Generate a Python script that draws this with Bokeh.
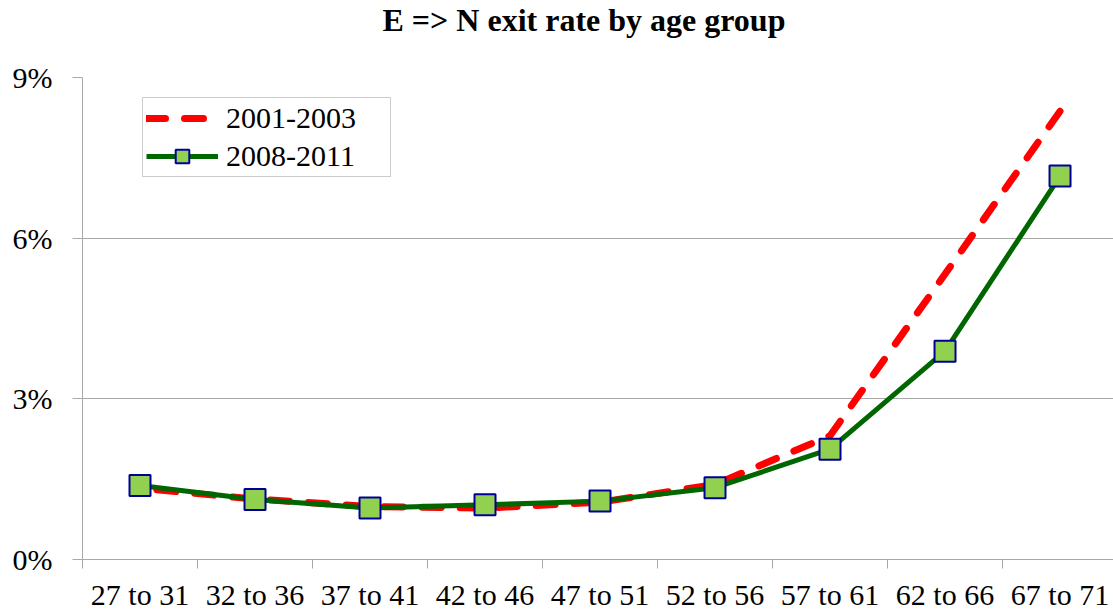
from bokeh.plotting import figure
from bokeh.models import FixedTicker, Range1d, Legend, LegendItem, PrintfTickFormatter, Title
from bokeh.embed import file_html
from bokeh.resources import INLINE

title_text = "E => N exit rate by age group"
age_groups = ["27 to 31", "32 to 36", "37 to 41", "42 to 46", "47 to 51",
              "52 to 56", "57 to 61", "62 to 66", "67 to 71"]
rate_2001_2003 = [1.33, 1.13, 0.99, 0.96, 1.07, 1.40, 2.31, 5.33, 8.37]
rate_2008_2011 = [1.38, 1.12, 0.96, 1.02, 1.09, 1.34, 2.06, 3.89, 7.16]
y_ticks = [0, 3, 6, 9]

FONT = "Liberation Serif"
GRAY = "#a8a8a8"

xs = [i + 0.5 for i in range(len(age_groups))]
boundaries = list(range(len(age_groups) + 1))

p = figure(width=1113, height=614, output_backend="svg", toolbar_location=None,
           x_range=Range1d(0, 8.965), y_range=Range1d(0, 9),
           min_border_left=82, min_border_right=0, min_border_top=77,
           min_border_bottom=55)
p.outline_line_color = None
p.background_fill_color = "white"

# spacer next to the frame, then the real title above it
p.add_layout(Title(text=" ", text_font_size="1px", standoff=35), "above")
p.add_layout(Title(text=title_text, text_font=FONT, text_font_size="32px",
                   text_font_style="bold", text_color="black", align="left",
                   offset=300, vertical_align="top", standoff=0), "above")

# dashed series drawn from its last point so the dash pattern ends on the top point
r1 = p.line(xs[::-1], rate_2001_2003[::-1], line_color="#ff0000", line_width=7,
            line_dash="19 19", line_cap="round")
r2 = p.line(xs, rate_2008_2011, line_color="#006600", line_width=5)
r3 = p.scatter(xs, rate_2008_2011, marker="square", size=21,
               fill_color="#92d050", line_color="#000099", line_width=2)

# x axis
p.xaxis.ticker = FixedTicker(ticks=xs, minor_ticks=boundaries)
p.xaxis.major_label_overrides = {x: lab for x, lab in zip(xs, age_groups)}
p.xaxis.major_tick_line_color = None
p.xaxis.major_tick_out = 0
p.xaxis.major_tick_in = 0
p.xaxis.minor_tick_line_color = GRAY
p.xaxis.minor_tick_out = 9
p.xaxis.minor_tick_in = 0
p.xaxis.axis_line_color = GRAY
p.xaxis.major_label_text_font = FONT
p.xaxis.major_label_text_font_size = "30px"
p.xaxis.major_label_text_color = "black"
p.xaxis.major_label_standoff = 9
p.xgrid.grid_line_color = None

# y axis
p.yaxis.ticker = FixedTicker(ticks=y_ticks)
p.yaxis.formatter = PrintfTickFormatter(format="%d%%")
p.yaxis.axis_line_color = GRAY
p.yaxis.major_tick_line_color = GRAY
p.yaxis.major_tick_out = 10
p.yaxis.major_tick_in = 0
p.yaxis.minor_tick_line_color = None
p.yaxis.major_label_text_font = FONT
p.yaxis.major_label_text_font_size = "30px"
p.yaxis.major_label_text_color = "black"
p.yaxis.major_label_standoff = 20
p.ygrid.grid_line_color = GRAY

legend = Legend(items=[LegendItem(label="2001-2003", renderers=[r1]),
                       LegendItem(label="2008-2011", renderers=[r2, r3])],
                location=(60, 382), border_line_color="#999999",
                padding=3, spacing=4, glyph_width=72, glyph_height=34,
                label_height=34, label_width=161, label_standoff=8,
                label_text_font=FONT, label_text_font_size="30px",
                label_text_color="black", background_fill_alpha=1.0)
p.add_layout(legend)

open("out.html", "w").write(file_html(p, INLINE))
